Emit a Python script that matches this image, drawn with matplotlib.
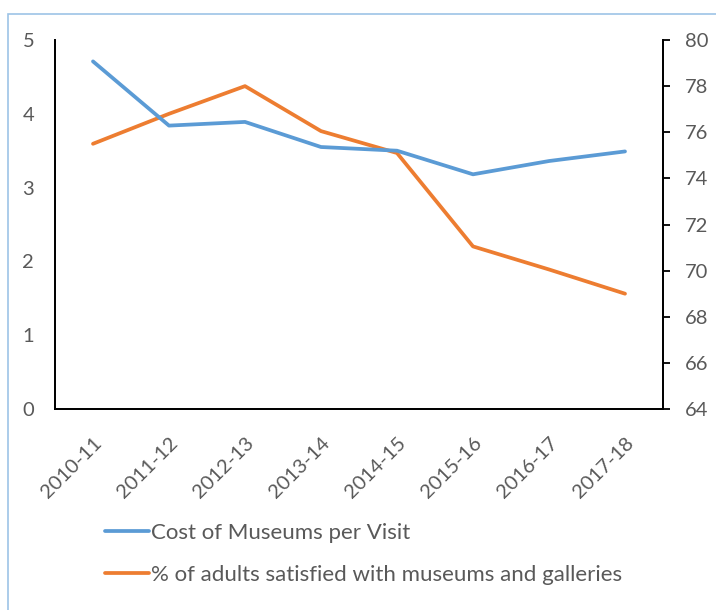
import matplotlib.pyplot as plt
from matplotlib.patches import Rectangle
from matplotlib.transforms import ScaledTranslation

years = ['2010-11', '2011-12', '2012-13', '2013-14', '2014-15', '2015-16', '2016-17', '2017-18']
cost_per_visit = [4.71, 3.84, 3.89, 3.55, 3.50, 3.18, 3.36, 3.49]
pct_satisfied = [75.5, 76.8, 78.0, 76.05, 75.1, 71.05, 70.05, 69.0]

blue = '#5B9BD5'
orange = '#ED7D31'
grey = '#595959'

plt.rcParams['font.family'] = ['Lato', 'DejaVu Sans']

fig = plt.figure(figsize=(7.16, 6.10), dpi=100)
W, H = 716, 610
ax = fig.add_axes([55 / W, 1 - 409 / H, 608 / W, 369 / H])
ax2 = ax.twinx()

x = range(len(years))
l1, = ax.plot(x, cost_per_visit, color=blue, lw=2.7, solid_capstyle='round',
              solid_joinstyle='round', label='Cost of Museums per Visit')
l2, = ax2.plot(x, pct_satisfied, color=orange, lw=2.7, solid_capstyle='round',
               solid_joinstyle='round', label='% of adults satisfied with museums and galleries')
ax.set_zorder(ax2.get_zorder() + 1)
ax.patch.set_visible(False)

ax.set_xlim(-0.5, len(years) - 0.5)
ax.set_ylim(0, 5)
ax2.set_ylim(64, 80)
ax.set_yticks(range(0, 6))
ax2.set_yticks(range(64, 81, 2))
ax.set_xticks(list(x))
ax.set_xticklabels(years, rotation=45, ha='right', rotation_mode='anchor')
shift = ScaledTranslation(5 / 100, 0, fig.dpi_scale_trans)
for lbl in ax.get_xticklabels():
    lbl.set_transform(lbl.get_transform() + shift)

for a in (ax, ax2):
    a.spines['top'].set_visible(False)
    for s in a.spines.values():
        s.set_linewidth(1.3)
        s.set_color('black')

ax.tick_params(axis='y', length=0, pad=15, labelsize=14.5, labelcolor=grey)
ax.tick_params(axis='x', length=0, pad=18, labelsize=14.5, labelcolor=grey)
ax2.tick_params(axis='y', length=5, width=1.3, direction='out', pad=11,
                labelsize=14.5, labelcolor=grey)

leg = fig.legend(handles=[l1, l2], loc='upper left',
                 bbox_to_anchor=(105 / W, 1 - 523 / H), frameon=False,
                 borderpad=0, borderaxespad=0,
                 handlelength=2.0, handletextpad=0.05, labelspacing=1.0,
                 fontsize=16)
for t in leg.get_texts():
    t.set_color(grey)

# outer chart border
fig.add_artist(Rectangle((8 / W, -0.1), 1.0, 1 - 14 / H + 0.1,
                         transform=fig.transFigure, fill=False,
                         edgecolor='#9DC3E6', lw=1.2))

fig.savefig('out.png', dpi=100)
